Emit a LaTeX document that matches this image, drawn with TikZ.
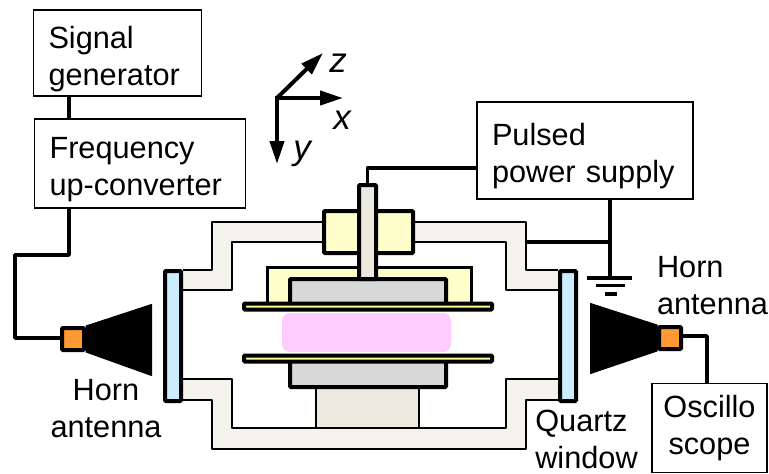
\documentclass[tikz,border=0pt]{standalone}
\usepackage{fontspec}
\setmainfont{Liberation Sans}
\usetikzlibrary{arrows.meta}

\tikzset{
  txt/.style={inner sep=0pt,font=\fontsize{30.7}{37}\selectfont,align=left},
  axlab/.style={txt,font=\fontsize{35}{37}\selectfont\itshape},
  box/.style={txt,draw,line width=1.6pt,inner xsep=15pt,fill=white,execute at begin node={\rule{0pt}{34pt}}},
  wire/.style={line width=3.4pt,line join=round},
  wall/.style={line width=2.4pt,line join=round},
  part/.style={draw,line width=4pt,rounded corners=1pt},
  axis/.style={line width=4pt,-{Triangle[length=23pt,width=14pt]}},
}
\definecolor{walls}{HTML}{F4F4EC}
\definecolor{winblue}{HTML}{CCECFF}
\definecolor{lightyel}{HTML}{FFFFCC}
\definecolor{plateyel}{HTML}{FFFF99}
\definecolor{plasma}{HTML}{FFCCFF}
\definecolor{greypart}{HTML}{D8D8D8}
\definecolor{stem}{HTML}{ECEADF}
\definecolor{feed}{HTML}{FF9933}

\begin{document}
\begin{tikzpicture}[x=1pt,y=-1pt]
  \useasboundingbox (0,0) rectangle (769,474);

  % boxes
  \node[box,text width=138pt,minimum height=86pt] (siggen) at (117.5,53) {Signal\\generator};
  \node[box,text width=181pt,minimum height=89pt] (upconv) at (140,163.5) {Frequency\\up-converter};
  \node[box,text width=186pt,minimum height=97pt] (pulsed) at (585,150.5) {Pulsed\\power supply};
  \node[box,align=center,minimum width=115pt,minimum height=89pt,inner xsep=0pt] (scope) at (709.5,428) {Oscillo\\scope};

  % chamber walls
  \fill[walls] (183,222) -- (183,270) -- (212,270) -- (212,222) -- (322,222) -- (322,242) -- (232,242) -- (232,290) -- (183,290) -- cycle;
  \fill[walls] (183,270) rectangle (232,290);
  \fill[walls] (415,222) -- (526,222) -- (526,270) -- (558,270) -- (558,290) -- (506,290) -- (506,242) -- (415,242) -- cycle;
  \fill[walls] (183,379) -- (232,379) -- (232,428) -- (506,428) -- (506,379) -- (558,379) -- (558,400) -- (526,400) -- (526,449) -- (212,449) -- (212,400) -- (183,400) -- cycle;
  \draw[wall] (183,270) -- (212,270) -- (212,222) -- (322,222);
  \draw[wall] (183,290) -- (232,290) -- (232,242) -- (322,242);
  \draw[wall] (415,222) -- (526,222) -- (526,270) -- (558,270);
  \draw[wall] (415,242) -- (506,242) -- (506,290) -- (558,290);
  \draw[wall] (183,379) -- (232,379) -- (232,428) -- (506,428) -- (506,379) -- (558,379);
  \draw[wall] (183,400) -- (212,400) -- (212,449) -- (526,449) -- (526,400) -- (558,400);

  % windows
  \draw[part,fill=winblue] (165,271) rectangle (181,401);
  \draw[part,fill=winblue] (560,271) rectangle (576,401);

  % electrodes
  \draw[draw,line width=3pt,fill=lightyel] (267.5,267.5) rectangle (471.5,304);
  \draw[part,fill=lightyel] (324,211) rectangle (413,253);
  \fill[plasma,rounded corners=8pt] (282,313) rectangle (451,352);
  \draw[draw,line width=2pt,fill=stem] (316,386) rectangle (419,428);
  \draw[part,fill=greypart] (290,279) rectangle (446,304);
  \draw[part,fill=greypart] (290,360) rectangle (446,387);
  \draw[part,fill=stem] (359,185) rectangle (376,279);
  \draw[part,fill=plateyel] (244,303.5) rectangle (492,309.5);
  \draw[part,fill=plateyel] (244,355.5) rectangle (492,361.5);

  % horns
  \node[part,fill=feed,inner sep=0pt,minimum size=22pt] (feedl) at (73,339) {};
  \node[part,fill=feed,inner sep=0pt,minimum size=22pt] (feedr) at (670,338) {};
  \fill[line join=round,draw,line width=1pt] (feedl.north east) -- (151.5,304.5) -- (151.5,375.5) -- (feedl.south east) -- cycle;
  \fill[line join=round,draw,line width=1pt] (feedr.north west) -- (590.5,303.5) -- (590.5,373.5) -- (feedr.south west) -- cycle;

  % wires
  \coordinate (tapsig) at (69,0);
  \coordinate (taprod) at (367.5,185);
  \coordinate (bendrod) at (367.5,168);
  \coordinate (tapgnd) at (610,0);
  \coordinate (gnd1) at (610,278);
  \coordinate (bendl) at (15,338);
  \coordinate (bendr) at (707,336);
  \draw[wire] (tapsig |- siggen.south) -- (tapsig |- upconv.north);
  \draw[wire] (tapsig |- upconv.south) -- (69,255) -- (15,255) -- (bendl) -- (feedl.west |- bendl);
  \draw[wire] (taprod) -- (bendrod) -- (pulsed.west |- bendrod);
  \draw[wire] (tapgnd |- pulsed.south) -- (gnd1);
  \draw[wire] (526,242) -- (610,242);
  \draw[wire] (feedr.east |- bendr) -- (bendr) -- (bendr |- scope.north);

  % ground
  \draw[wire] (587,278) -- (632,278);
  \draw[wire] (596,285.5) -- (625,285.5);
  \draw[wire] (605,294) -- (617,294);

  % axes
  \coordinate (orig) at (277,98);
  \coordinate (zend) at (323,53);
  \coordinate (xend) at (343,98);
  \coordinate (yend) at (277,164);
  \draw[axis] (orig) -- (zend);
  \draw[axis] ([xshift=-2pt]orig) -- (xend);
  \draw[axis] ([yshift=-2pt]orig) -- (yend);
  \node[axlab] (zlab) at (338,63) {z};
  \node[axlab] (xlab) at (342,120) {x};
  \node[axlab] (ylab) at (302,154) {y};

  % labels
  \node[txt,align=center] (hornl) at (106,409) {Horn\\antenna};
  \node[txt,align=left] (hornr) at (712.5,286) {Horn\\antenna};
  \node[txt] (quartz) at (586.5,439) {Quartz\\window};
\end{tikzpicture}
\end{document}
